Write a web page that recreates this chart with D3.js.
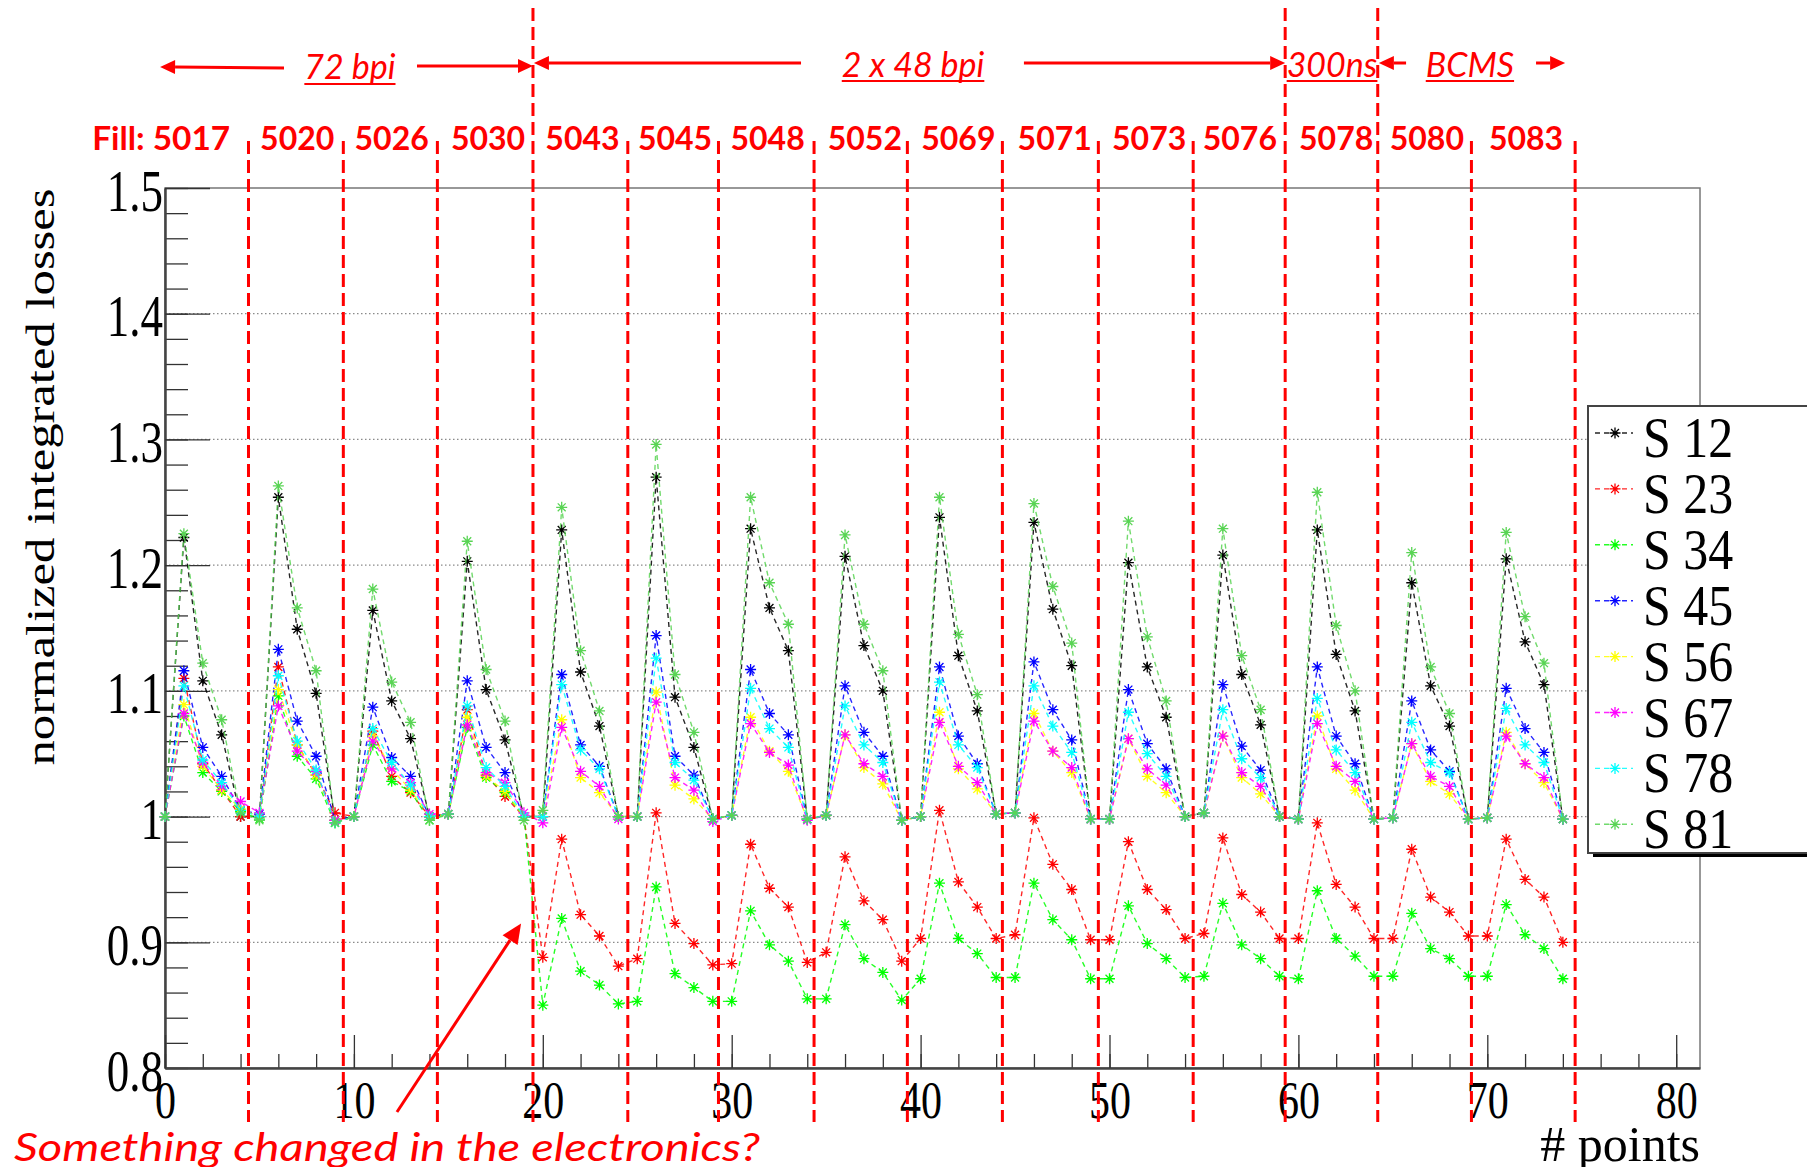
<!DOCTYPE html>
<html><head><meta charset="utf-8">
<script src="https://cdn.jsdelivr.net/npm/d3@7"></script>
<style>body{margin:0;background:#fff;} svg{display:block;}</style>
</head><body>
<svg id="c" width="1807" height="1167"></svg>
<script>
// ---------------- DATA ----------------
const seriesNames = ["S 12","S 23","S 34","S 45","S 56","S 67","S 78","S 81"];
const S12 = [1.0,1.222,1.108,1.065,1.0, 1.0,1.254,1.149,1.098,0.997, 1.0,1.164,1.092,1.062,1.0, 1.002,1.203,1.101,1.061,1.0,
  1.0,1.228,1.115,1.072,1.0, 1.0,1.270,1.095,1.055,0.998, 1.001,1.229,1.166,1.132,0.998, 1.001,1.207,1.136,1.100,0.997,
  1.0,1.238,1.128,1.084,1.002, 1.003,1.234,1.165,1.120,0.998, 0.998,1.202,1.119,1.079,1.0, 1.003,1.208,1.113,1.073,1.0,
  0.998,1.228,1.129,1.084,0.998, 0.999,1.186,1.104,1.072,0.998, 0.999,1.205,1.139,1.105,0.998];
const S23 = [1.0,1.110,1.042,1.021,1.0, 1.0,1.119,1.057,1.033,1.003, 1.0,1.068,1.032,1.019,1.0, 1.002,1.085,1.033,1.016,1.0,
  0.888,0.982,0.922,0.905,0.881, 0.887,1.003,0.915,0.899,0.882, 0.883,0.978,0.943,0.928,0.884, 0.892,0.968,0.933,0.918,0.885,
  0.903,1.005,0.948,0.928,0.903, 0.906,0.999,0.962,0.942,0.902, 0.902,0.980,0.942,0.926,0.903, 0.907,0.983,0.938,0.924,0.903,
  0.903,0.995,0.946,0.928,0.903, 0.903,0.974,0.936,0.924,0.905, 0.905,0.982,0.950,0.936,0.900];
const S34 = [1.0,1.080,1.035,1.020,1.004, 0.998,1.096,1.048,1.030,0.995, 1.0,1.057,1.028,1.020,0.997, 1.002,1.071,1.031,1.019,1.0,
  0.850,0.919,0.877,0.866,0.851, 0.853,0.944,0.875,0.864,0.853, 0.853,0.925,0.898,0.885,0.855, 0.855,0.914,0.887,0.876,0.854,
  0.871,0.947,0.903,0.891,0.872, 0.872,0.947,0.918,0.902,0.871, 0.871,0.929,0.899,0.887,0.872, 0.873,0.931,0.898,0.887,0.873,
  0.871,0.941,0.903,0.889,0.873, 0.873,0.923,0.895,0.887,0.873, 0.873,0.930,0.906,0.895,0.871];
const S45 = [1.0,1.116,1.055,1.032,1.005, 1.002,1.133,1.076,1.048,0.997, 1.0,1.087,1.047,1.032,1.0, 1.002,1.108,1.055,1.035,1.0,
  1.0,1.113,1.057,1.040,1.0, 1.0,1.144,1.048,1.033,0.998, 1.001,1.117,1.082,1.065,0.998, 1.001,1.104,1.067,1.048,0.997,
  1.0,1.119,1.064,1.042,1.002, 1.003,1.123,1.085,1.061,0.998, 0.998,1.101,1.058,1.038,1.0, 1.003,1.105,1.056,1.037,1.0,
  0.998,1.119,1.064,1.042,0.998, 0.999,1.092,1.053,1.036,0.998, 0.999,1.102,1.070,1.051,0.998];
const S56 = [1.0,1.089,1.040,1.021,1.006, 1.0,1.101,1.057,1.033,0.997, 1.0,1.064,1.038,1.021,1.0, 1.002,1.079,1.032,1.020,1.0,
  1.0,1.077,1.031,1.019,1.0, 1.0,1.099,1.025,1.014,0.998, 1.001,1.079,1.052,1.036,0.998, 1.001,1.065,1.039,1.026,0.997,
  1.0,1.083,1.038,1.022,1.002, 1.003,1.082,1.052,1.035,0.998, 0.998,1.062,1.032,1.019,1.0, 1.003,1.064,1.031,1.018,1.0,
  0.998,1.080,1.038,1.021,0.998, 0.999,1.058,1.028,1.018,0.998, 0.999,1.067,1.042,1.027,0.998];
const S67 = [1.0,1.082,1.043,1.024,1.012, 1.003,1.088,1.052,1.036,0.997, 1.0,1.060,1.038,1.027,1.002, 1.002,1.073,1.035,1.027,1.003,
  0.995,1.071,1.036,1.024,0.998, 1.0,1.091,1.031,1.021,0.996, 1.001,1.074,1.051,1.041,0.997, 1.001,1.065,1.042,1.032,0.997,
  1.0,1.075,1.040,1.027,1.002, 1.003,1.076,1.052,1.039,0.998, 0.998,1.062,1.038,1.025,1.0, 1.003,1.064,1.035,1.024,1.0,
  0.998,1.074,1.040,1.028,0.998, 0.999,1.058,1.032,1.024,0.998, 0.999,1.064,1.042,1.031,0.998];
const S78 = [1.0,1.104,1.045,1.027,1.005, 1.0,1.112,1.060,1.037,0.995, 1.0,1.070,1.043,1.025,1.0, 1.002,1.088,1.039,1.024,1.0,
  1.0,1.105,1.053,1.038,1.0, 1.0,1.126,1.043,1.029,0.998, 1.001,1.102,1.070,1.055,0.998, 1.001,1.088,1.057,1.043,0.997,
  1.0,1.107,1.057,1.039,1.002, 1.003,1.104,1.072,1.051,0.998, 0.998,1.083,1.050,1.032,1.0, 1.003,1.085,1.046,1.031,1.0,
  0.998,1.094,1.053,1.035,0.998, 0.999,1.075,1.043,1.035,0.998, 0.999,1.086,1.057,1.043,0.998];
const S81 = [1.0,1.225,1.122,1.077,1.003, 0.997,1.263,1.166,1.116,0.995, 1.0,1.181,1.107,1.075,0.997, 1.002,1.219,1.117,1.076,0.997,
  1.005,1.246,1.132,1.084,1.0, 1.0,1.296,1.113,1.067,0.998, 1.001,1.254,1.186,1.153,0.998, 1.001,1.224,1.153,1.116,0.997,
  1.0,1.254,1.145,1.097,1.002, 1.003,1.249,1.183,1.138,0.998, 0.998,1.235,1.143,1.092,1.0, 1.003,1.229,1.128,1.085,1.0,
  0.998,1.258,1.152,1.100,0.998, 0.999,1.210,1.119,1.082,0.998, 0.999,1.226,1.159,1.122,0.998];
const seriesValues = [S12,S23,S34,S45,S56,S67,S78,S81];

const xTickValues = [0,10,20,30,40,50,60,70,80];
const xTickLabels = ["0","10","20","30","40","50","60","70","80"];
const yTickValues = [0.8,0.9,1.0,1.1,1.2,1.3,1.4,1.5];
const yTickLabels = ["0.8","0.9","1","1.1","1.2","1.3","1.4","1.5"];
const gridValues = [0.9,1.0,1.1,1.2,1.3,1.4];

const fillLabels = ["Fill: 5017","5020","5026","5030","5043","5045","5048","5052","5069","5071","5073","5076","5078","5080","5083"];
const fillLabelX = [3.45,7,12,17.1,22.1,27,31.9,37.05,42,47.1,52.1,56.9,62,66.8,72.05];
const fillBoundaries = [4.42,9.44,14.42,19.48,24.5,29.3,34.36,39.3,44.33,49.41,54.43,59.3,64.2,69.16,74.65];
const tallBoundary = [false,false,false,true,false,false,false,false,false,false,false,true,true,false,false];

const periodLabels = ["72 bpi","2 x 48 bpi","300ns","BCMS"];
const periodLabelX = [9.79,39.6,61.78,69.08];
// arrows: [tail x, tip x] in point units
const periodArrows = [[6.3,-0.26],[13.34,19.48],[33.67,19.53],[45.47,59.3],[65.7,64.26],[72.58,74.12]];

const noteText = "Something changed in the electronics?";
const noteArrow = [[12.28,0.765],[18.85,0.915]];

// ---------------- STYLE ----------------
const colors = ["#000000","#ff0000","#00ff00","#0000ff","#ffff00","#ff00ff","#00ffff","#59d454"];
const RED = "#ff0000";
const W = 1807, H = 1167;
const L = 165, R = 1700, T = 188, B = 1068;

const svg = d3.select("#c");
svg.append("rect").attr("width",W).attr("height",H).attr("fill","#fff");

const x = d3.scaleLinear().domain([0,81.26]).range([L,R]);
const y = d3.scaleLinear().domain([0.8,1.5]).range([B,T]);

// grid
svg.append("g").selectAll("line").data(gridValues).join("line")
  .attr("x1",L).attr("x2",R).attr("y1",d=>y(d)).attr("y2",d=>y(d))
  .attr("stroke","#8a8a8a").attr("stroke-width",1.2).attr("stroke-dasharray","1.5,2.5");

// frame
svg.append("rect").attr("x",L).attr("y",T).attr("width",R-L).attr("height",B-T)
  .attr("fill","none").attr("stroke","#777").attr("stroke-width",1.5);

// Y axis
const yMinor = d3.range(0.8,1.5001,0.02);
svg.append("g").attr("transform",`translate(${L},0)`)
  .call(d3.axisLeft(y).tickValues(yMinor).tickSize(-23).tickSizeOuter(0).tickFormat(""))
  .call(g=>g.select(".domain").remove())
  .call(g=>g.selectAll("line").attr("stroke","#333").attr("stroke-width",1.3));
const yAx = svg.append("g").attr("transform",`translate(${L},0)`)
  .call(d3.axisLeft(y).tickValues(yTickValues).tickSize(-45).tickSizeOuter(0).tickFormat((d,i)=>yTickLabels[i]));
yAx.select(".domain").attr("stroke","#444").attr("stroke-width",2.5);
yAx.selectAll("line").attr("stroke","#333").attr("stroke-width",1.3);
yAx.selectAll("text").attr("x",null).attr("dy",null)
  .attr("transform","translate(-2,22) scale(1,1.3)")
  .attr("font-family","'Liberation Serif','Times New Roman',serif").attr("font-size",45).attr("fill","#000");

// X axis
const xMinor = d3.range(0,81,2);
svg.append("g").attr("transform",`translate(0,${B})`)
  .call(d3.axisBottom(x).tickValues(xMinor).tickSize(-14).tickSizeOuter(0).tickFormat(""))
  .call(g=>g.select(".domain").remove())
  .call(g=>g.selectAll("line").attr("stroke","#333").attr("stroke-width",1.3));
const xAx = svg.append("g").attr("transform",`translate(0,${B})`)
  .call(d3.axisBottom(x).tickValues(xTickValues).tickSize(-33).tickSizeOuter(0).tickFormat((d,i)=>xTickLabels[i]));
xAx.select(".domain").attr("stroke","#444").attr("stroke-width",2.5);
xAx.selectAll("line").attr("stroke","#333").attr("stroke-width",1.3);
xAx.selectAll("text").attr("y",null).attr("dy",null)
  .attr("transform","translate(0,50) scale(1,1.28)")
  .attr("font-family","'Liberation Serif','Times New Roman',serif").attr("font-size",42).attr("fill","#000");

// axis titles
svg.append("text").attr("transform","translate(54,477) rotate(-90) scale(1.3,1)")
  .attr("text-anchor","middle").attr("font-family","'Liberation Serif','Times New Roman',serif")
  .attr("font-size",39).text("normalized integrated losses");
svg.append("text").attr("x",R).attr("y",1161).attr("text-anchor","end")
  .attr("font-family","'Liberation Serif','Times New Roman',serif").attr("font-size",50).text("# points");

// series
const star = r => { const a = r*0.72; return `M${-r},0H${r}M0,${-r}V${r}M${-a},${-a}L${a},${a}M${-a},${a}L${a},${-a}`; };
const line = d3.line().x((d,i)=>x(i)).y(d=>y(d));
seriesValues.forEach((vals,si)=>{
  const g = svg.append("g");
  g.append("path").attr("d",line(vals)).attr("fill","none").attr("stroke",colors[si])
    .attr("stroke-width",1.4).attr("stroke-dasharray","5,4").attr("opacity",0.85);
  g.selectAll("path.m").data(vals).join("path").attr("class","m")
    .attr("transform",(d,i)=>`translate(${x(i)},${y(d)})`).attr("d",star(5.5))
    .attr("stroke",colors[si]).attr("stroke-width",1.3).attr("fill","none");
});

// legend
svg.append("rect").attr("x",1593).attr("y",411).attr("width",260).attr("height",446).attr("fill","#000");
svg.append("rect").attr("x",1588).attr("y",406).attr("width",260).attr("height",447)
  .attr("fill","#fff").attr("stroke","#444").attr("stroke-width",2);
seriesNames.forEach((nm,si)=>{
  const cy = 433 + si*55.9;
  svg.append("line").attr("x1",1595).attr("x2",1633).attr("y1",cy).attr("y2",cy)
    .attr("stroke",colors[si]).attr("stroke-width",1.4).attr("stroke-dasharray","5,4").attr("opacity",0.85);
  svg.append("path").attr("transform",`translate(1615,${cy})`).attr("d",star(5.5))
    .attr("stroke",colors[si]).attr("stroke-width",1.3).attr("fill","none");
  svg.append("text").attr("transform",`translate(1643,${cy+24}) scale(1,1.12)`)
    .attr("font-family","'Liberation Serif','Times New Roman',serif").attr("font-size",50).text(nm);
});

// fill boundaries
svg.append("g").selectAll("line").data(fillBoundaries).join("line")
  .attr("x1",d=>x(d)).attr("x2",d=>x(d))
  .attr("y1",(d,i)=>tallBoundary[i]?8:141).attr("y2",1122)
  .attr("stroke",RED).attr("stroke-width",3).attr("stroke-dasharray","13,6");

// fill labels
svg.append("g").selectAll("text").data(fillLabels).join("text")
  .attr("x",(d,i)=>x(fillLabelX[i])).attr("y",150)
  .attr("text-anchor",(d,i)=>i===0?"end":"middle")
  .attr("font-family","Lato,'Open Sans',sans-serif").attr("font-weight","bold").attr("font-size",32)
  .attr("fill",RED)
  .each(function(d,i){ if(i===0) d3.select(this).attr("textLength",138).attr("lengthAdjust","spacingAndGlyphs"); })
  .text(d=>d);

// period labels with underline
const pl = svg.append("g");
periodLabels.forEach((t,i)=>{
  const tx = pl.append("text").attr("x",x(periodLabelX[i])).attr("y",i===0?79:77)
    .attr("text-anchor","middle").attr("font-family","Lato,'Open Sans',sans-serif")
    .attr("font-style","italic").attr("font-size",34).attr("fill",RED).text(t);
  const w = tx.node().getComputedTextLength();
  const uy = i===0?84:81;
  pl.append("line").attr("x1",x(periodLabelX[i])-w/2).attr("x2",x(periodLabelX[i])+w/2)
    .attr("y1",uy).attr("y2",uy).attr("stroke",RED).attr("stroke-width",2.2);
});
function arrow(g,x1,y1,x2,y2,len,hw,sw){
  const ang = Math.atan2(y2-y1,x2-x1);
  const bx = x2-len*Math.cos(ang), by = y2-len*Math.sin(ang);
  g.append("line").attr("x1",x1).attr("y1",y1).attr("x2",bx).attr("y2",by)
    .attr("stroke",RED).attr("stroke-width",sw);
  const px = -Math.sin(ang)*hw, py = Math.cos(ang)*hw;
  g.append("path").attr("d",`M${x2},${y2}L${bx+px},${by+py}L${bx-px},${by-py}Z`).attr("fill",RED);
}
const arrowY = [[68,67],[66,66],[63,63],[63,63],[63,63],[63,63]];
periodArrows.forEach((a,i)=>{
  arrow(pl,x(a[0]),arrowY[i][0],x(a[1]),arrowY[i][1],15,7,3);
});

// note
svg.append("text").attr("x",14).attr("y",1161).attr("font-family","Lato,'Open Sans',sans-serif")
  .attr("font-style","italic").attr("font-size",38).attr("fill",RED)
  .attr("textLength",746).attr("lengthAdjust","spacingAndGlyphs").text(noteText);
arrow(svg,x(noteArrow[0][0]),y(noteArrow[0][1]),x(noteArrow[1][0]),y(noteArrow[1][1]),20,9,3);
</script>
</body></html>
